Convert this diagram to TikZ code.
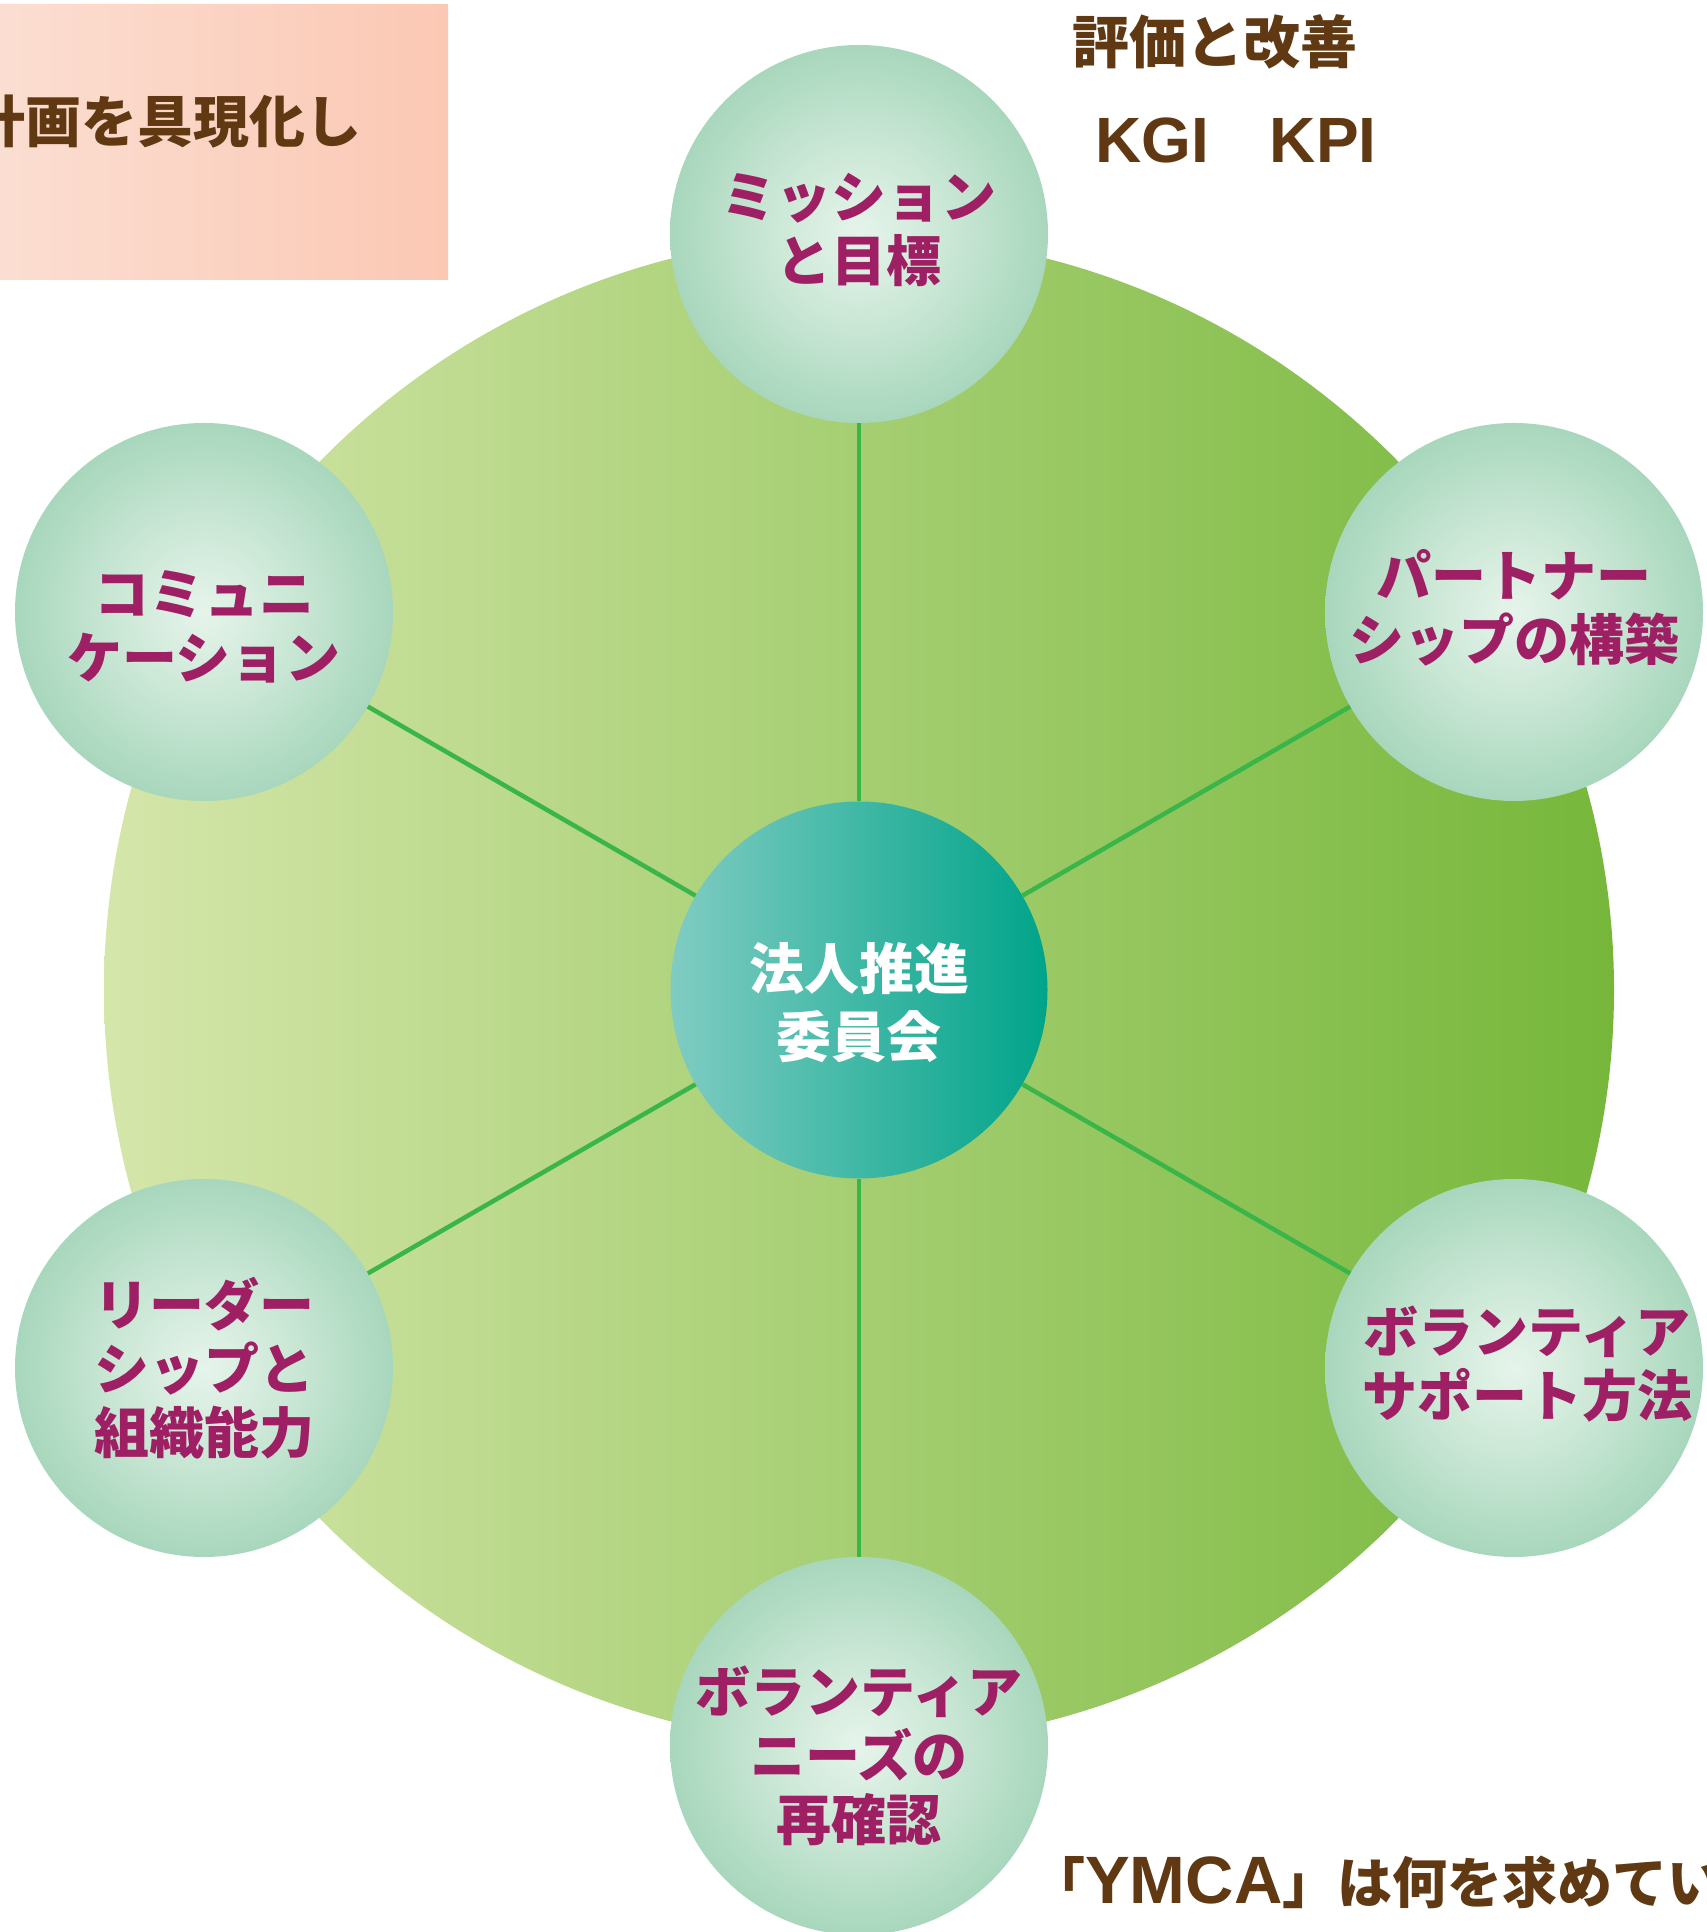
\documentclass[tikz,border=0pt]{standalone}
\usepackage{fontspec}
\setmainfont{Noto Sans CJK JP}
\newfontfamily\latb{Liberation Sans}
\definecolor{txtmag}{HTML}{9E1F63}
\definecolor{txtbrown}{HTML}{603913}
\definecolor{spokecol}{HTML}{3AB54A}
\definecolor{bigL}{HTML}{D5E6AA}
\definecolor{bigR}{HTML}{76B73A}
\definecolor{cenL}{HTML}{80CCC2}
\definecolor{cenM}{HTML}{00B6A8}
\definecolor{cenR}{HTML}{00A48A}
\definecolor{orbin}{HTML}{E6F4EB}
\definecolor{orbmid}{HTML}{CAE7D5}
\definecolor{orbout}{HTML}{A8D7BD}
\definecolor{boxL}{HTML}{FBDED2}
\definecolor{boxR}{HTML}{FBC8B3}
\pgfdeclareradialshading{orb}{\pgfpoint{0bp}{0bp}}{color(0bp)=(orbin); color(12bp)=(orbmid); color(25bp)=(orbout); color(50bp)=(orbout)}
\tikzset{
  orbnode/.style={circle, minimum size=378pt, inner sep=0pt, shading=orb},
  orbtext/.style={text=txtmag, inner sep=0pt, font=\bfseries\fontsize{55pt}{64pt}\selectfont, align=center},
  hubnode/.style={circle, minimum size=377pt, inner sep=0pt, left color=cenL, middle color=cenM, right color=cenR},
  hubtext/.style={text=white, inner sep=0pt, font=\bfseries\fontsize{55pt}{68pt}\selectfont, align=center},
  spokeline/.style={draw=spokecol, line width=4.5pt},
  browntext/.style={text=txtbrown, inner sep=0pt, font=\bfseries\fontsize{57pt}{64pt}\selectfont}
}
\begin{document}
\begin{tikzpicture}[x=1pt,y=1pt]
\useasboundingbox (0,0) rectangle (1706,1932);
\begin{scope}
\clip (0,0) rectangle (1706,1932);
% background disc
\shade[left color=bigL, right color=bigR] (859,942) circle (755);
% hub and satellites
\node[hubnode, label={[hubtext, yshift=-13pt]center:法人推進\\委員会}] (hub) at (859,942) {};
\node[orbnode, label={[orbtext, yshift=4pt]center:ミッション\\と目標}] (top) at (859,1698) {};
\node[orbnode, label={[orbtext, yshift=4pt]center:パートナー\\シップの構築}] (rt) at (1514,1320) {};
\node[orbnode, label={[orbtext, yshift=4pt, xshift=13pt]center:ボランティア\\サポート方法}] (rb) at (1514,564) {};
\node[orbnode, label={[orbtext, yshift=-10pt]center:ボランティア\\ニーズの\\再確認}] (bot) at (859,186) {};
\node[orbnode, label={[orbtext]center:リーダー\\シップと\\組織能力}] (lb) at (204,564) {};
\node[orbnode, label={[orbtext, yshift=-15pt]center:コミュニ\\ケーション}] (lt) at (204,1320) {};
% spokes
\draw[spokeline] (hub) -- (top);
\draw[spokeline] (hub) -- (rt);
\draw[spokeline] (hub) -- (rb);
\draw[spokeline] (hub) -- (bot);
\draw[spokeline] (hub) -- (lb);
\draw[spokeline] (hub) -- (lt);
% top-left box
\shade[left color=boxL, right color=boxR] (0,1652) rectangle (448,1927);
\begin{scope}
\clip (0,1652) rectangle (448,1927);
\node[browntext, anchor=east, font=\bfseries\fontsize{56pt}{64pt}\selectfont] (plan) at (362,1810) {計画を具現化し};
\end{scope}
% top-right texts
\node[browntext, anchor=west] (eval) at (1072,1890) {評価と改善};
\node[browntext, anchor=west, font=\latb\bfseries\fontsize{64pt}{70pt}\selectfont] (kpi) at (1095,1792) {KGI\hspace{61pt}KPI};
% bottom text
\node[browntext, anchor=west, font=\bfseries\fontsize{55pt}{64pt}\selectfont] (ymca) at (1030,50) {「{\latb\bfseries\fontsize{67pt}{64pt}\selectfont YMCA}」は何を求めてい};
\end{scope}
\end{tikzpicture}
\end{document}
